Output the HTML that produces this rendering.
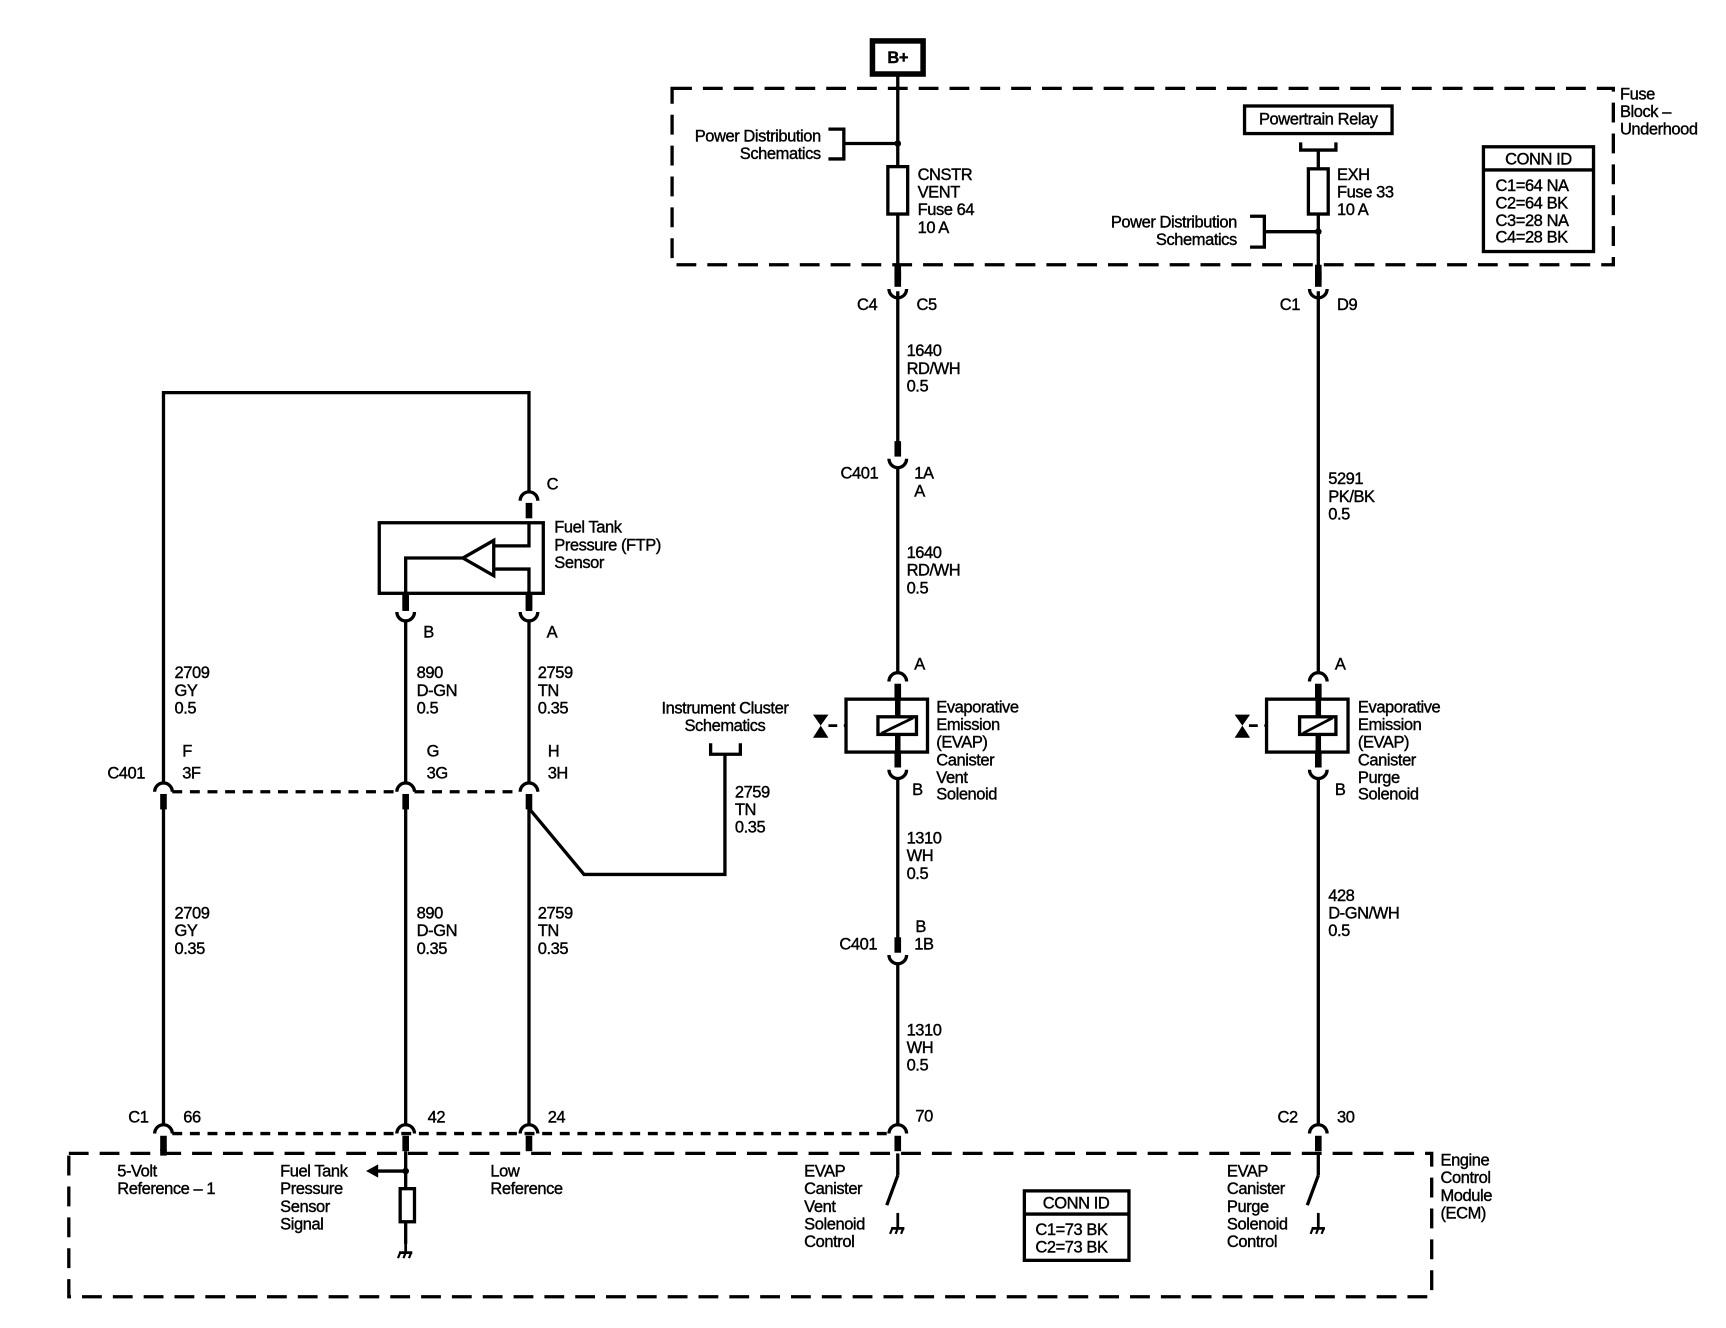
<!DOCTYPE html>
<html><head><meta charset="utf-8"><style>
html,body{margin:0;padding:0;background:#fff}
svg{display:block}
text{font-family:"Liberation Sans",sans-serif;font-size:15px;fill:#000;stroke:#000;stroke-width:0.35px;dominant-baseline:central;letter-spacing:-0.4px}
</style></head><body>
<svg width="1726" height="1328" viewBox="0 0 1560 1200" xmlns="http://www.w3.org/2000/svg">
<defs>
<g id="cd"><path d="M-8 8 A8 8 0 0 1 8 8" fill="none" stroke="#000" stroke-width="3"/><line x1="0" y1="10" x2="0" y2="24" stroke="#000" stroke-width="6"/></g>
<g id="cu"><path d="M-8 -8 A8 8 0 0 0 8 -8" fill="none" stroke="#000" stroke-width="3"/><line x1="0" y1="-10" x2="0" y2="-24" stroke="#000" stroke-width="6"/></g>
<g id="gnd"><line x1="0" y1="0" x2="0" y2="14" stroke="#000" stroke-width="2.5"/><line x1="-6" y1="14" x2="6" y2="14" stroke="#000" stroke-width="2.5"/><path d="M-5 14 l-2 5 M0 14 l-2 5 M5 14 l-2 5" stroke="#000" stroke-width="2"/></g>
</defs>
<g transform="translate(0.5,-2) scale(0.995,0.9965)">
<g fill="none" stroke="#000">
<rect x="610" y="82" width="855" height="160" stroke-width="3" stroke-dasharray="18 10"/>
<rect x="62" y="1048" width="1238" height="130" stroke-width="3" stroke-dasharray="18 10"/>
<rect x="792" y="39" width="46" height="30" stroke-width="5"/>
<line x1="815" y1="70" x2="815" y2="250" stroke-width="3"/>
<line x1="815" y1="242" x2="815" y2="256" stroke-width="6"/>
<line x1="815" y1="132" x2="766" y2="132" stroke-width="3"/>
<path d="M752 119 H766 V146 H752" stroke-width="3"/>
<rect x="806" y="153" width="18" height="43" stroke-width="3" fill="#fff"/>
<line x1="815" y1="266" x2="815" y2="406" stroke-width="3"/>
<line x1="815" y1="426" x2="815" y2="612" stroke-width="3"/>
<line x1="815" y1="708" x2="815" y2="856" stroke-width="3"/>
<line x1="815" y1="876" x2="815" y2="1022" stroke-width="3"/>
<line x1="815" y1="1048" x2="815" y2="1068" stroke-width="3"/>
<line x1="815" y1="1068" x2="805" y2="1095" stroke-width="3"/>
<rect x="1130" y="98" width="134" height="25" stroke-width="3"/>
<path d="M1181 131 V138 H1213 V131" stroke-width="3"/>
<line x1="1197" y1="138" x2="1197" y2="250" stroke-width="3"/>
<line x1="1197" y1="242" x2="1197" y2="256" stroke-width="6"/>
<rect x="1188" y="155" width="18" height="41" stroke-width="3" fill="#fff"/>
<line x1="1197" y1="212" x2="1148" y2="212" stroke-width="3"/>
<path d="M1135 198 H1148 V226 H1135" stroke-width="3"/>
<line x1="1197" y1="266" x2="1197" y2="612" stroke-width="3"/>
<line x1="1197" y1="708" x2="1197" y2="1022" stroke-width="3"/>
<line x1="1197" y1="1048" x2="1197" y2="1068" stroke-width="3"/>
<line x1="1197" y1="1068" x2="1187" y2="1095" stroke-width="3"/>
<rect x="1347" y="135" width="100" height="95" stroke-width="3"/>
<line x1="1347" y1="156" x2="1447" y2="156" stroke-width="3"/>
<rect x="768" y="636" width="74" height="48" stroke-width="3" fill="#fff"/>
<line x1="815" y1="636" x2="815" y2="684" stroke-width="5"/>
<rect x="797" y="652" width="35" height="16" stroke-width="3" fill="#fff"/>
<line x1="800" y1="667" x2="829" y2="653" stroke-width="2.5"/>
<line x1="752" y1="660" x2="768" y2="660" stroke-width="2.5" stroke-dasharray="8 6"/>
<rect x="1150" y="636" width="74" height="48" stroke-width="3" fill="#fff"/>
<line x1="1197" y1="636" x2="1197" y2="684" stroke-width="5"/>
<rect x="1180" y="652" width="33" height="16" stroke-width="3" fill="#fff"/>
<line x1="1183" y1="667" x2="1210" y2="653" stroke-width="2.5"/>
<line x1="1134" y1="660" x2="1150" y2="660" stroke-width="2.5" stroke-dasharray="8 6"/>
<path d="M148 712 V358 H480 V448" stroke-width="3"/>
<rect x="344" y="476" width="149" height="64" stroke-width="3"/>
<path d="M480 476 V497 H448 M448 518 H480 V540 M420 508 H368 V540" stroke-width="3"/>
<path d="M448 492 V524 L420 508 Z" stroke-width="3" fill="#fff"/>
<line x1="368" y1="540" x2="368" y2="556" stroke-width="6"/>
<line x1="480" y1="540" x2="480" y2="556" stroke-width="6"/>
<line x1="368" y1="565" x2="368" y2="712" stroke-width="3"/>
<line x1="480" y1="565" x2="480" y2="712" stroke-width="3"/>
<line x1="148" y1="734" x2="148" y2="1022" stroke-width="3"/>
<line x1="368" y1="734" x2="368" y2="1022" stroke-width="3"/>
<line x1="480" y1="734" x2="480" y2="1022" stroke-width="3"/>
<path d="M480 735 L530 795 H658 V686" stroke-width="3"/>
<path d="M645 676 V686 H672 V676" stroke-width="3"/>
<line x1="156" y1="720" x2="360" y2="720" stroke-width="3" stroke-dasharray="9 7"/>
<line x1="376" y1="720" x2="472" y2="720" stroke-width="3" stroke-dasharray="9 7"/>
<line x1="156" y1="1030" x2="807" y2="1030" stroke-width="3" stroke-dasharray="9 7"/>
<line x1="148" y1="1044" x2="148" y2="1050" stroke-width="6"/>
<line x1="368" y1="1046" x2="368" y2="1130" stroke-width="3"/>
<line x1="370" y1="1064" x2="340" y2="1064" stroke-width="3"/>
<rect x="363" y="1080" width="13" height="30" stroke-width="3" fill="#fff"/>
<rect x="930" y="1082" width="95" height="63" stroke-width="3"/>
<line x1="930" y1="1103" x2="1025" y2="1103" stroke-width="3"/>
</g>
<circle cx="815" cy="132" r="3"/><circle cx="1197" cy="212" r="3"/><circle cx="368" cy="1064" r="3"/>
<path d="M332 1064 L343 1058 L343 1070 Z"/>
<path d="M738 650 H752 L745 660 Z M738 671 H752 L745 660 Z"/>
<path d="M1121 650 H1135 L1128 660 Z M1121 671 H1135 L1128 660 Z"/>
<use href="#cu" x="815" y="272"/><use href="#cu" x="1197" y="272"/>
<use href="#cu" x="815" y="426"/><use href="#cu" x="815" y="876"/>
<use href="#cd" x="815" y="612"/><use href="#cu" x="815" y="708"/>
<use href="#cd" x="1197" y="612"/><use href="#cu" x="1197" y="708"/>
<use href="#cd" x="480" y="448"/>
<use href="#cu" x="368" y="565"/><use href="#cu" x="480" y="565"/>
<use href="#cd" x="148" y="712"/><use href="#cd" x="368" y="712"/><use href="#cd" x="480" y="712"/>
<use href="#cd" x="148" y="1022"/><use href="#cd" x="368" y="1022"/><use href="#cd" x="480" y="1022"/><use href="#cd" x="815" y="1022"/><use href="#cd" x="1197" y="1022"/>
<use href="#gnd" x="368" y="1124"/><use href="#gnd" x="815" y="1102"/><use href="#gnd" x="1197" y="1102"/>
<text x="815" y="54" text-anchor="middle" font-weight="bold">B+</text>
<text x="1197" y="110" text-anchor="middle">Powertrain Relay</text>
<text x="1471" y="87">Fuse</text><text x="1471" y="103">Block –</text><text x="1471" y="119">Underhood</text>
<text x="745" y="125" text-anchor="end">Power Distribution</text><text x="745" y="141" text-anchor="end">Schematics</text>
<text x="833" y="160">CNSTR</text><text x="833" y="176">VENT</text><text x="833" y="192">Fuse 64</text><text x="833" y="208">10 A</text>
<text x="1214" y="160">EXH</text><text x="1214" y="176">Fuse 33</text><text x="1214" y="192">10 A</text>
<text x="1123" y="203" text-anchor="end">Power Distribution</text><text x="1123" y="219" text-anchor="end">Schematics</text>
<text x="1397" y="146" text-anchor="middle">CONN ID</text>
<text x="1358" y="170">C1=64 NA</text><text x="1358" y="186">C2=64 BK</text><text x="1358" y="202">C3=28 NA</text><text x="1358" y="217">C4=28 BK</text>
<text x="778" y="278">C4</text><text x="832" y="278">C5</text><text x="1162" y="278">C1</text><text x="1214" y="278">D9</text>
<text x="823" y="320">1640</text><text x="823" y="336">RD/WH</text><text x="823" y="352">0.5</text>
<text x="763" y="431">C401</text><text x="830" y="431">1A</text><text x="830" y="447">A</text>
<text x="823" y="503">1640</text><text x="823" y="519">RD/WH</text><text x="823" y="535">0.5</text>
<text x="830" y="604">A</text><text x="828" y="718">B</text>
<text x="850" y="643">Evaporative</text><text x="850" y="659">Emission</text><text x="850" y="675">(EVAP)</text><text x="850" y="691">Canister</text><text x="850" y="707">Vent</text><text x="850" y="722">Solenoid</text>
<text x="823" y="762">1310</text><text x="823" y="778">WH</text><text x="823" y="794">0.5</text>
<text x="831" y="842">B</text><text x="762" y="858">C401</text><text x="830" y="858">1B</text>
<text x="823" y="936">1310</text><text x="823" y="952">WH</text><text x="823" y="968">0.5</text>
<text x="831" y="1014">70</text>
<text x="1206" y="436">5291</text><text x="1206" y="452">PK/BK</text><text x="1206" y="468">0.5</text>
<text x="1212" y="604">A</text><text x="1212" y="718">B</text>
<text x="1233" y="643">Evaporative</text><text x="1233" y="659">Emission</text><text x="1233" y="675">(EVAP)</text><text x="1233" y="691">Canister</text><text x="1233" y="707">Purge</text><text x="1233" y="722">Solenoid</text>
<text x="1206" y="814">428</text><text x="1206" y="830">D-GN/WH</text><text x="1206" y="846">0.5</text>
<text x="1160" y="1015">C2</text><text x="1214" y="1015">30</text>
<text x="496" y="441">C</text>
<text x="503" y="480">Fuel Tank</text><text x="503" y="496">Pressure (FTP)</text><text x="503" y="512">Sensor</text>
<text x="384" y="575">B</text><text x="496" y="575">A</text>
<text x="158" y="612">2709</text><text x="158" y="628">GY</text><text x="158" y="644">0.5</text>
<text x="378" y="612">890</text><text x="378" y="628">D-GN</text><text x="378" y="644">0.5</text>
<text x="488" y="612">2759</text><text x="488" y="628">TN</text><text x="488" y="644">0.35</text>
<text x="658" y="644" text-anchor="middle">Instrument Cluster</text><text x="658" y="660" text-anchor="middle">Schematics</text>
<text x="97" y="703">C401</text><text x="165" y="683">F</text><text x="165" y="703">3F</text>
<text x="387" y="683">G</text><text x="387" y="703">3G</text><text x="497" y="683">H</text><text x="497" y="703">3H</text>
<text x="667" y="720">2759</text><text x="667" y="736">TN</text><text x="667" y="752">0.35</text>
<text x="158" y="830">2709</text><text x="158" y="846">GY</text><text x="158" y="862">0.35</text>
<text x="378" y="830">890</text><text x="378" y="846">D-GN</text><text x="378" y="862">0.35</text>
<text x="488" y="830">2759</text><text x="488" y="846">TN</text><text x="488" y="862">0.35</text>
<text x="116" y="1015">C1</text><text x="166" y="1015">66</text><text x="388" y="1015">42</text><text x="497" y="1015">24</text>
<text x="106" y="1064">5-Volt</text><text x="106" y="1080">Reference – 1</text>
<text x="254" y="1064">Fuel Tank</text><text x="254" y="1080">Pressure</text><text x="254" y="1096">Sensor</text><text x="254" y="1112">Signal</text>
<text x="445" y="1064">Low</text><text x="445" y="1080">Reference</text>
<text x="730" y="1064">EVAP</text><text x="730" y="1080">Canister</text><text x="730" y="1096">Vent</text><text x="730" y="1112">Solenoid</text><text x="730" y="1128">Control</text>
<text x="1114" y="1064">EVAP</text><text x="1114" y="1080">Canister</text><text x="1114" y="1096">Purge</text><text x="1114" y="1112">Solenoid</text><text x="1114" y="1128">Control</text>
<text x="977" y="1093" text-anchor="middle">CONN ID</text>
<text x="940" y="1117">C1=73 BK</text><text x="940" y="1133">C2=73 BK</text>
<text x="1308" y="1054">Engine</text><text x="1308" y="1070">Control</text><text x="1308" y="1086">Module</text><text x="1308" y="1102">(ECM)</text>
</g>
</svg>
</body></html>
